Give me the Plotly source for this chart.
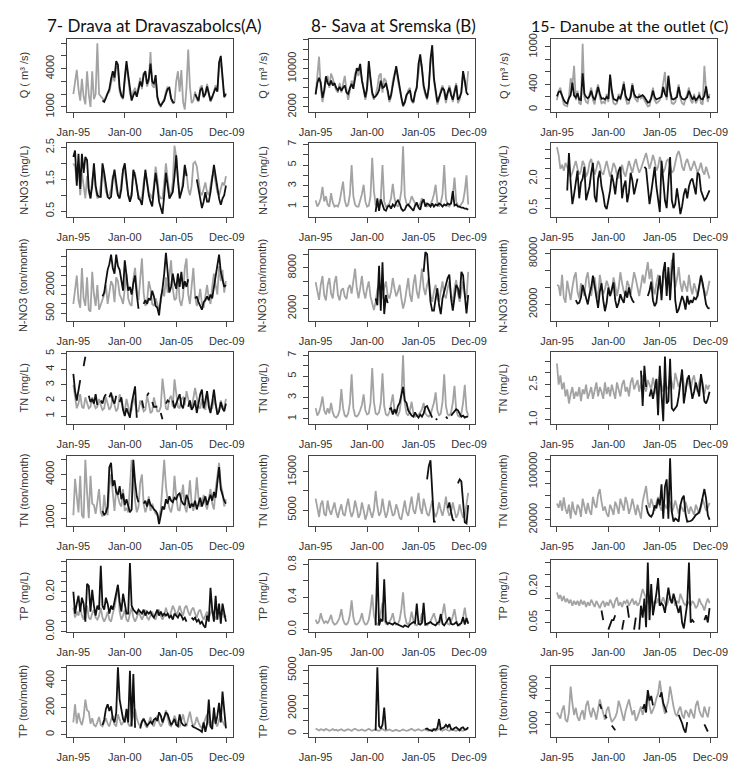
import plotly.graph_objects as go

N = None
STEP = 2  # months between stored values
x_tick_vals = [0, 60, 120, 179]
x_tick_text = ["Jan-95", "Jan-00", "Jan-05", "Dec-09"]
col_titles = ["7- Drava at Dravaszabolcs(A)", "8- Sava at Sremska (B)", "15- Danube at the outlet (C)"]
row_titles = ["Q ( m\u00b3 /s)", "N-NO3 (mg/L)", "N-NO3 (ton/month)", "TN (mg/L)",
              "TN (ton/month)", "TP (mg/L)", "TP (ton/month)"]

# ---------------- Row 1 : discharge ----------------
drava_q_sim = [2000, 2800, 3900, 2400, 1500, 3200, 1800, 1200, 3800, 2000, 1000, 3800, 1600, 2000, 6000, 2000, 1800,
               1600, 1500, 1800, 2100, 2200, 3000, 3500, 3000, 4200, 4000, 2200, 1800, 1600, 3000, 4300, 3300, 2000,
               1600, 2200, 2500, 1900, 2600, 3300, 2400, 3700, 3600, 2600, 3000, 5300, 2700, 2500, 3200, 1700, 1200,
               1000, 1400, 1600, 2200, 2600, 2300, 1600, 1300, 1400,
               3000, 3800, 2200, 3900, 1400, 800, 2500, 5500, 2600, 1300, 1500,
               2200, 1600, 1400, 2500, 2700, 1700, 2100, 2800, 2000, 1400, 1700, 2300, 2700, 2300, 4000, 4600, 2800,
               1700, 2100]
drava_q_obs = [N] * 17 + [1500, 1400, 1700, 2000, 2400, 3200, 3800, 3300, 4600, 4300, 2500, 1900, 1700, 3300, 4600,
                          3500, 2300, 1500, 1900, 2200, 1800, 2400, 3000, 2600, 3500, 3800, 2800, 3200, 4400, 3000, 2800,
                          3500, 1800, 1300, 1100, 1300, 1500, 2000, 2400, 2500, 1700, 1400, 1300] + [N] * 11 + \
              [2000, 1700, 1500, 2300, 2500, 1800, 2000, 2600, 1900, 1500, 1800, 2100, 2500, 2200, 4500, 5000, 3000,
               1800, 2000]
sava_q_sim = [4500, 9000, 12500, 6000, 3000, 5000, 7500, 8500, 6000, 9000, 8000, 6500, 5500, 5000, 7000, 5000, 6500,
              8500, 5500, 3500, 5500, 7500, 6500, 9000, 9500, 8500, 10000, 8000, 5500, 3500, 5500, 10500, 7500, 4500,
              3500, 4500, 6000, 8500, 9000, 5000, 8000, 7500, 5000, 3000, 4000, 7500, 9000, 10000, 7500, 5500, 3500,
              2000, 2800, 4000, 5500, 6000, 3200, 2800, 4500, 6500, 9000, 12000, 10500, 6000, 4500, 3500, 6500, 11000,
              13500, 7500, 5000, 2500, 3500, 5500, 6500, 5000, 2800, 4500, 6500, 5000, 3000, 5500, 7000, 2800, 3500,
              5500, 9000, 7000, 5500, 9500]
sava_q_obs = [4700, 7000, 8100, 7000, 3900, 5500, 8400, 7000, 6500, 7500, 6500, 7000, 6000, 5500, 6200, 5400, 6000,
              6500, 5000, 4700, 6000, 6800, 5800, 8000, 10100, 9500, 11000, 7500, 6000, 4000, 6000, 11600, 8000, 5000,
              4000, 4200, 4700, 5500, 7500, 6000, 6200, 7000, 5500, 3500, 4500, 7000, 8500, 10500, 8000, 6000, 4000,
              2300, 3000, 4500, 5000, 5500, 3500, 3000, 5000, 6000, 11000, 13000, 10000, 6500, 5000, 3800, 6000, 12000,
              14900, 8000, 5500, 3000, 4000, 5000, 6000, 5500, 3500, 5000, 6000, 4500, 3500, 5000, 6500, 3500, 4000,
              5000, 9500, 7500, 5000, 4500]
danube_q_sim = [150, 300, 350, 180, 80, 60, 50, 200, 500, 380, 700, 150, 300, 100, 80, 1050, 200, 120, 100, 250, 350,
                150, 80, 300, 400, 200, 100, 120, 100, 250, 120, 520, 250, 100, 80, 100, 250, 150, 300, 450, 180, 90,
                100, 250, 420, 200, 150, 120, 250, 180, 200, 150, 80, 50, 60, 200, 350, 150, 100, 120, 150, 250, 450,
                600, 150, 500, 250, 100, 90, 120, 250, 400, 180, 100, 80, 150, 250, 350, 150, 100, 250, 100, 150, 280,
                100, 80, 700, 300, 120, 250]
danube_q_obs = [210, 280, 290, 200, 150, 110, 95, 180, 230, 430, 220, 190, 260, 160, 150, 580, 250, 200, 180, 210, 300,
                200, 150, 240, 360, 250, 170, 180, 160, 200, 170, 560, 300, 170, 150, 140, 200, 180, 270, 410, 220, 160,
                150, 200, 390, 250, 200, 190, 200, 220, 230, 200, 150, 110, 120, 180, 300, 200, 160, 170, 180, 200, 360,
                250, 200, 540, 300, 170, 160, 180, 200, 360, 220, 170, 160, 170, 200, 300, 220, 160, 200, 150, 180, 220,
                170, 160, 220, 370, 190, 200]

# ---------------- Row 2 : nitrate concentration ----------------
drava_no3_sim = [2.0, 1.9, 1.4, 1.9, 1.0, 1.7, 1.3, 0.9, 1.6, 1.1, 0.9, 1.5, 1.8, 1.2, 0.9, 1.0, 1.3, 1.8, 1.5, 1.1,
                 1.0, 1.0, 1.2, 1.6, 1.6, 1.2, 1.0, 1.0, 1.4, 1.8, 1.8, 1.3, 1.0, 0.9, 1.1, 1.7, 1.7, 1.2, 1.0, 0.9,
                 0.9, 1.4, 1.7, 1.4, 1.1, 1.0, 0.9, 1.3, 1.9, 1.5, 1.0, 0.9, 0.9, 1.4, 2.0, 1.5, 1.1, 1.0, 1.4, 2.55,
                 2.2, 1.5, 1.0, 1.1, 1.6, 1.9, 1.7, 1.2, 1.0, 1.3, 2.0, 2.05, 1.9, 1.5, 1.1, 1.0, 1.2, 1.4, 1.1, 1.0,
                 1.3, 1.6, 1.7, 1.4, 1.1, 1.0, 1.2, 1.4, 1.3, 1.6]
drava_no3_obs = [2.2, 2.4, 1.3, 2.3, 1.2, 2.3, 1.7, 2.2, 2.1, 1.2, 0.9, 1.3, 2.0, 1.3, 1.0, 0.95, 0.95, 2.0, 1.7, 1.3,
                 0.95, 0.9, 0.95, 1.5, 1.8, 1.4, 1.0, 0.9, 1.2, 1.8, 2.0, 1.5, 1.0, 0.8, 1.0, 1.8, 1.6, 1.3, 0.9, 0.85,
                 0.7, 1.2, 1.8, 1.4, 1.0, 0.8, 0.65, 1.2, 1.7, 1.3, 0.8, 0.6, 0.42, 1.0, 1.7, 1.3, 0.9, 1.0, 1.1, 1.6,
                 2.25, 1.5, 0.9, 1.1, 1.3, 1.95, 1.6] + [N] * 5 + \
                [1.5, 1.2, 0.9, 0.6, 0.8, 1.1, 0.8, 0.8, 1.1, 1.5, 1.95, 1.6, 1.2, 0.9, 0.7, 0.9, 1.0, 1.3]
sava_no3_sim = [1.6, 1.0, 1.3, 1.8, 2.9, 1.5, 2.0, 1.2, 1.0, 2.3, 1.4, 1.0, 1.1, 1.0, 1.5, 2.5, 3.4, 1.6,
                1.0, 1.2, 2.2, 5.0, 2.0, 1.2, 1.0, 1.0, 1.5, 2.2, 3.1, 1.5, 1.0, 1.1, 2.0, 5.7, 2.5, 1.2,
                1.0, 1.2, 1.8, 5.0, 1.5, 1.0, 1.1, 1.3, 1.8, 3.2, 1.8, 1.2, 1.0, 1.5, 2.5, 6.8, 2.0, 1.3,
                1.1, 1.4, 2.0, 1.6, 1.3, 1.1, 1.0, 1.3, 1.8, 1.5, 1.2, 1.0, 1.1, 1.2, 1.6, 2.2, 3.1, 1.4,
                1.0, 1.4, 2.2, 5.0, 1.8, 1.1, 1.0, 1.3, 2.0, 3.8, 1.5, 1.1, 1.0, 1.2, 1.5, 2.5, 4.0, 1.2]
sava_no3_obs = [N] * 35 + [0.5,
                           1.8, 0.6, 1.7, 1.2, 0.7, 0.6, 1.0, 1.1, 0.8, 1.2, 1.0, 1.4, 1.6, 1.3, 0.8, 0.6, 0.7, 1.1,
                           1.2, 1.0, 0.8, 0.6, 1.1, 1.4, 0.9, 0.7, 1.4, 1.7, 1.0, 1.3, 1.2, 1.0, 1.3, 1.0, 1.2, 1.1,
                           1.3, 1.2, 1.0, 1.2, 1.1, 1.3, 1.2, 1.3, 2.5, 1.1, 1.2, 1.0, 1.0, 0.9, 0.9, 0.8, 0.8, 0.7]
danube_no3_sim = [3.6, 3.2, 2.5, 2.7, 2.4, 2.8, 2.6, 2.4, 2.1, 2.3, 2.6, 2.9, 2.5, 2.2, 2.4, 2.9, 2.7, 2.1, 2.3, 2.8,
                  3.0, 2.6, 2.2, 2.5, 2.9, 2.7, 2.3, 2.2, 2.6, 2.9, 2.5, 2.1, 2.4, 2.8, 2.6, 2.2, 2.0, 2.4, 2.7, 2.3,
                  2.1, 2.5, 2.9, 2.6, 2.3, 2.7, 3.0, 2.6, 2.3, 2.5, 2.8, 3.1, 3.3, 2.9, 2.5, 2.8, 3.2, 2.9, 2.4, 2.6,
                  3.1, 2.8, 2.3, 2.5, 2.9, 3.0, 2.7, 2.3, 2.4, 2.8, 3.2, 3.4, 3.1, 2.6, 2.4, 2.8, 3.0, 2.7, 2.4, 2.6,
                  2.9, 2.6, 2.3, 2.5, 2.8, 2.4, 2.2, 2.6, 2.3, 2.0]
danube_no3_obs = [N] * 6 + [1.4, 3.3, 1.8, 0.7, 1.2, 1.7, 2.4, 1.0, 1.8, 2.0, 2.6, 0.9, 1.2, 1.6, 2.3, 2.8, 1.1, 0.8,
                            2.0, 2.4, 1.6, 1.2, 0.6, 0.45, 0.9, 1.4, 2.2, 1.8, 1.2, 2.0, 2.4, 2.6, 1.0, 1.6, 1.9, 0.8,
                            1.3, 2.3, 1.9, 1.2, 1.6, 2.0] + [N] * 3 + \
                 [2.6, 2.5, 1.6, 0.7, 1.3, 2.0, 2.6, 1.6, 0.8, 0.3, 2.9, 1.8, 0.9, 0.5, 1.6, 3.1, 0.9, 0.5, 0.7, 1.5,
                  0.9, 0.2, 0.6, 1.2, 1.5, 1.0, 1.6, 1.9, 2.0, 1.5, 1.2, 2.3, 2.2, 1.4, 1.1, 0.9, 1.0, 1.2, 1.4]

# ---------------- Row 3 : nitrate load ----------------
drava_no3l_sim = [1000, 1800, 2500, 1200, 800, 2900, 1300, 900, 2400, 700, 600, 2700, 1500, 900, 2000, 700, 1000, 1300,
                  1500, 2000, 1000, 1600, 2200, 2000, 1100, 2400, 2200, 1500, 1300, 1000, 2000, 2600, 1300, 1000, 900,
                  2300, 2900, 1800, 1200, 2200, 3400, 1600, 900, 1100, 2200, 1800, 1000, 900, 1300, 1000, 700, 1100,
                  1800, 1400, 2400, 1600, 2300, 3300, 1800, 1200, 1300, 2600, 1200, 900, 1400, 2900, 3400, 1500, 1000,
                  2200, 2900, 1400, 900, 1200, 1800, 1000, 800, 1400, 2000, 1300, 1000, 1900, 2600, 2000, 1500, 3000,
                  2200, 2800, 1600, 2200]
drava_no3l_obs = [N] * 17 + [1400, 1600, 2200, 2800, 3100, 3600, 2900, 2600, 3600, 3000, 2800, 2200, 1700, 3300, 2400,
                             1700, 1900, 1500, 2100, 2500, 1500, 750, N, N, 1000, 1200, 1000, 1300, 1200, 1700, 1400,
                             900, 800, 400, 1300, 1800, 2600, 3700, 2700, 1600, 1900, 2600, 2100, 1800, 2600, 1900,
                             2700, 1800, 2200, 1900, 2300] + [N] * 3 + \
                 [1300, 1400, 1100, 900, 700, 1100, 1200, 1400, 1200, 1500, 1300, 1900, 2400, 3000, 3600, 2700, 2300,
                  1900, 2000]
sava_no3l_sim = [5900, 4500, 3300, 5500, 6800, 4000, 3200, 5500, 6500, 4200, 3500, 5800, 6800, 4000, 3200, 4700, 5000,
                 3800, 3400, 5000, 5500, 4200, 6000, 7900, 5000, 3500, 5000, 6800, 4500, 3500, 5000, 6000, 3800, 2800,
                 1800, 3000, 4800, 5500, 4500, 3500, 5000, 6000, 4000, 3500, 4500, 6500, 5000, 3800, 4500, 5500, 3500,
                 2000, 3000, 5000, 6500, 4000, 3000, 5500, 7000, 4500, 3500, 5500, 7900, 5000, 4000, 5500, 6500, 4000,
                 3000, 4500, 5500, 3500, 3000, 4500, 6000, 4000, 3500, 5000, 6000, 4000, 3000, 5000, 6200, 4200, 3000,
                 4500, 6000, 4000, 3500, 7400]
sava_no3l_obs = [N] * 35 + [3500, 2500, 8300, 1700, 8800, 1200, 4000, 2800] + [N] * 20 + \
                [7400, 10300, 10000, 6000, 3000, 1700, 1700, 3500, 5000, 2500, 1200, 3500, 4500, 5500, 6500, 7000,
                 3500, 1700, 3500, 5500, 5000, 3500, 7400, 6900, 4000, 1300, 4000]
danube_no3l_sim = [43000, 42000, 30000, 55000, 28000, 22000, 48000, 35000, 25000, 40000, 52000, 58000, 35000, 27000,
                   45000, 38000, 30000, 50000, 58000, 40000, 30000, 45000, 52000, 35000, 28000, 55000, 45000, 32000,
                   38000, 48000, 42000, 30000, 35000, 52000, 42000, 30000, 40000, 58000, 45000, 35000, 30000, 48000,
                   42000, 32000, 45000, 58000, 50000, 38000, 30000, 42000, 55000, 45000, 60000, 70000, 50000, 62000,
                   40000, 32000, 45000, 55000, 40000, 35000, 48000, 60000, 42000, 58000, 45000, 73000, 62000, 40000,
                   50000, 64000, 45000, 35000, 48000, 42000, 35000, 55000, 40000, 32000, 45000, 38000, 30000, 40000,
                   55000, 42000, 35000, 30000, 38000, 48000]
danube_no3l_obs = [N] * 11 + [25000, 21000, 22000, 28000, 43000, 35000, 30000, 20000, 32000, 40000, 54000, 40000,
                              30000, 16000, 35000, 45000, 25000, 12000, 22000, 40000, 30000, 38000, 46000, 25000,
                              16000, 22000, 32000, 26000, 22000, 36000, 28000, 40000, 30000, 25000, 22000] + [N] * 7 + \
                  [30000, 36000, 47000, 25000, 18000, 22000, 40000, 54000, 25000, 58000, 70000, 30000, 64000, 25000,
                   58000, 81000, 25000, 10000, 14000, 24000, 30000, 24000, 14000, 30000, 20000, 25000, 22000, 28000,
                   26000, 30000, 40000, 54000, 45000, 30000, 20000, 16000, 15000]

# ---------------- Row 4 : TN concentration ----------------
drava_tn_sim = [3.0, 2.3, 1.5, 1.8, 2.4, 1.6, 1.5, 2.2, 1.9, 1.5, 1.6, 2.2, 1.8, 1.5, 1.6, 2.1, 1.7, 1.4, 1.5, 2.2,
                1.8, 1.4, 1.6, 2.3, 1.7, 1.3, 1.5, 2.4, 1.9, 1.4, 1.3, 2.1, 1.6, 1.2, 1.4, 2.2, 1.8, 1.3, 1.3, 2.0,
                1.7, 1.3, 1.4, 2.3, 1.8, 1.2, 1.3, 2.2, 1.7, 1.3, 1.3, 1.6, 3.4, 2.2, 1.5, 1.4, 2.1, 2.3, 1.6, 3.35,
                2.4, 1.6, 1.5, 2.1, 2.2, 1.7, 2.6, 2.0, 1.6, 1.5, 2.2, 2.8, 2.2, 1.6, 1.5, 2.1, 1.7, 1.4, 2.5, 2.0,
                1.4, 1.5, 2.1, 1.7, 1.3, 1.4, 2.0, 1.6, 1.5, 2.1]
drava_tn_obs = [3.7, 2.6, 2.0, 2.8, 3.3, N, 4.2, 4.8, N, 2.3, 1.9, 2.1, 1.8, 2.4, 1.7, N, 2.0, 1.8, 2.2, 2.4, N, 2.2,
                2.5, 2.0, 1.8, 2.3, N, 1.9, 2.2, 1.4, 1.0, 1.5, 1.2, 0.9, 1.8, 2.5, 2.9, 0.9, N, N, 2.0, 1.5, N, 2.3,
                2.5, N, 1.9, 1.6, 1.6, 1.6, N, 1.2, 0.8, N, 1.8, 2.0, 1.9, N, 2.0, 1.5, 1.8, 2.1, 2.4, 1.7, 1.5, 2.2,
                N, 1.6, 2.0, 1.4, 1.6, 2.0, 1.2, 1.8, 2.4, 2.7, 1.5, 2.0, 2.6, 1.6, 1.2, 1.9, 2.7, 1.8, 1.1, 1.3, 1.9,
                1.5, 1.3, 1.8]
sava_tn_sim = [2.0, 1.3, 1.6, 2.2, 3.1, 1.8, 1.4, 2.0, 1.5, 2.5, 1.6, 1.2, 1.1, 1.3, 1.8, 3.8, 2.0, 1.3, 1.2, 1.5,
               2.5, 5.2, 2.0, 1.3, 1.2, 1.4, 1.8, 2.3, 3.3, 1.8, 1.4, 1.5, 2.5, 5.8, 2.6, 1.5, 1.4, 1.6, 2.5, 5.3,
               2.2, 1.4, 1.3, 1.6, 2.4, 3.3, 1.8, 1.4, 1.3, 1.7, 3.0, 7.0, 2.5, 1.5, 1.3, 1.8, 2.6, 1.5, 1.2, 1.3,
               1.4, 1.6, 1.9, 2.5, 1.5, 1.3, 1.2, 1.4, 2.0, 2.5, 3.5, 1.8, 1.3, 1.5, 2.6, 5.2, 2.2, 1.4, 1.3, 1.6,
               2.5, 4.1, 1.8, 1.3, 1.2, 1.5, 2.5, 4.2, 1.8, 1.3]
sava_tn_obs = [N] * 43 + [1.9, 2.0, 1.4, 1.9, 1.5, 2.2, 2.5, 3.2, 4.0, 2.7, 2.5, 1.8, 1.5, 1.3, 1.2, 1.6, 1.3, 1.1,
                          1.4, 1.2, 1.5, 2.1, 2.2, 1.8, 1.5, 1.1, N, 1.0, 0.9, N, N, N, N, 1.2, 1.0, N, 1.3, 1.5, 1.7,
                          1.9, 1.8, 1.5, 1.2, 1.3, 1.1, 1.2, 1.2]
danube_tn_sim = [3.4, 2.5, 2.9, 2.3, 2.6, 2.0, 2.3, 1.7, 2.1, 2.4, 1.9, 2.2, 2.0, 2.4, 1.8, 2.3, 2.1, 2.5, 1.9, 2.2,
                 2.4, 1.9, 2.3, 2.6, 2.0, 2.4, 2.2, 1.9, 2.6, 2.1, 2.4, 2.0, 2.5, 2.2, 1.9, 2.6, 2.3, 2.0, 2.5, 2.7,
                 2.2, 2.4, 2.0, 2.6, 2.8, 2.3, 2.5, 2.7, 2.2, 2.6, 2.9, 2.4, 2.2, 2.7, 2.5, 2.3, 2.8, 2.4, 2.1, 2.6,
                 2.9, 2.5, 2.2, 2.7, 2.4, 2.3, 2.9, 2.6, 2.3, 3.0, 2.7, 2.4, 2.6, 3.0, 2.5, 2.2, 2.8, 2.5, 2.3, 2.7,
                 2.9, 2.4, 2.2, 2.6, 2.8, 2.3, 2.1, 2.5, 2.3, 2.5]
danube_tn_obs = [N] * 49 + [3.1, 1.6, 3.3, 2.4, N, 2.0, 2.3, 1.9, 2.4, 2.75, 1.2, 3.3, 2.1, 0.95, 3.7, 1.7, 1.8, 3.6,
                            1.5, 1.4, 1.5, 1.6, 2.0, 2.6, 3.15, 1.7, 2.3, 2.7, 2.9, 2.3, 1.9, 2.2, 2.6, 2.3, 2.0, 2.95,
                            2.5, 1.8, 1.7, 1.9, 2.2]

# ---------------- Row 5 : TN load ----------------
drava_tnl_sim = [1200, 3700, 2500, 1400, 3900, 1200, 1000, 5000, 2800, 1000, 3900, 2000, 1900, 1300, 2100, 3000, 1400,
                 1100, 2600, 1500, 1200, 3200, 4000, 2600, 1500, 3000, 2400, 2000, 1800, 3000, 1500, 1700, 1400, 3500,
                 5000, 3800, 2200, 1400, 1800, 3400, 4000, 2000, 1400, 1800, 2500, 1500, 2000, 1600, 1300, 1200, 1000,
                 1600, 3000, 5000, 3200, 2200, 1700, 1400, 2000, 3900, 2500, 1600, 1500, 2600, 3300, 1800, 1400, 2300,
                 3600, 2000, 1500, 2200, 3800, 2400, 1800, 2000, 2600, 2000, 1600, 2300, 3000, 2000, 1600, 3000, 4000,
                 4800, 3300, 2800, 1800, 2300]
drava_tnl_obs = [N] * 17 + [1500, 1200, 1400, 1800, 4500, 4800, 3200, 3600, 2800, 2600, 3200, 2300, 2700, 1900, 2300,
                            1900, 1400, 1600, 5000, 3500, 2500, 2100, N, N, 2000, 2200, 1800, 2300, 1900, 1800, 1600,
                            1500, 1300, 600, 1200, 1800, 1600, 2300, 2000, 2500, 2200, 2100, 2400, 2300, 2600, 2700,
                            2200, 2000, 1900, 2600, 2300, 1700, 2000, 1800, 2200, 1600, 2000, 2400, 1800, 2200, 2500,
                            1900, 2300, 2600, 2200, 2800, 2400, 3650, 4500, 3000, 2600, 2200, 2000]
sava_tnl_sim = [8000, 5500, 3200, 6500, 7500, 4000, 3500, 7500, 5000, 3800, 5500, 7000, 4500, 3000, 5000, 6500, 4000,
                3500, 6000, 8000, 5000, 3200, 4500, 7500, 5500, 3000, 4000, 7000, 5000, 2500, 4000, 6500, 4500, 3000,
                5000, 10000, 6000, 3500, 4500, 8000, 5000, 3000, 4500, 7500, 5500, 3500, 4000, 6500, 5000, 3000, 2500,
                5500, 7500, 4500, 3500, 6000, 8500, 5000, 4000, 6500, 9500, 5500, 4000, 8000, 6000, 4000, 3500, 5500,
                7500, 4500, 3200, 4500, 7000, 5000, 3500, 5500, 8500, 5000, 3500, 4500, 7000, 5000, 3000, 4000, 6500,
                4500, 3000, 3500, 6000, 9500]
sava_tnl_obs = [N] * 65 + [13000, 16500, 18000, 9000, 2000, 2000] + [N] * 6 + [5500, 7000, 4500, 2500, 2200] + [N] + \
               [12000, 13000, 12500, 6000, 1800, 1500, 6300]
danube_tnl_sim = [47000, 40000, 52000, 35000, 57000, 38000, 30000, 45000, 22000, 50000, 35000, 28000, 45000, 40000,
                  25000, 55000, 42000, 30000, 48000, 35000, 28000, 58000, 45000, 40000, 62000, 71000, 50000, 35000,
                  42000, 30000, 25000, 45000, 38000, 28000, 50000, 42000, 30000, 55000, 45000, 35000, 58000, 48000,
                  30000, 40000, 55000, 38000, 28000, 45000, 35000, 22000, 50000, 62000, 76000, 50000, 40000, 55000,
                  45000, 35000, 48000, 58000, 42000, 35000, 50000, 45000, 38000, 55000, 48000, 32000, 40000, 52000,
                  38000, 30000, 45000, 40000, 33000, 50000, 38000, 30000, 42000, 36000, 28000, 45000, 38000, 30000,
                  40000, 55000, 45000, 35000, 40000, 48000]
danube_tnl_obs = [N] * 52 + [44000, 32000, 27000, 25000, 30000, 44000, 39000, 55000, 44000, 79000, 22000, 75000, 87000,
                             22000, 122000, 33000, 17000, 22000, 20000, 17000, 44000, 55000, 60000, 30000, 17000, 17000,
                             18000, 20000, 25000, 28000, 30000, 33000, 44000, 58000, 71000, 55000, 28000, 20000]

# ---------------- Row 6 : TP concentration ----------------
drava_tp_sim = [0.12, 0.07, 0.10, 0.08, 0.12, 0.08, 0.06, 0.10, 0.13, 0.07, 0.06, 0.09, 0.11, 0.07, 0.06, 0.08, 0.12,
                0.07, 0.05, 0.07, 0.10, 0.06, 0.05, 0.09, 0.12, 0.17, 0.23, 0.10, 0.06, 0.08, 0.11, 0.06, 0.05, 0.09,
                0.12, 0.07, 0.05, 0.07, 0.10, 0.08, 0.06, 0.08, 0.11, 0.07, 0.06, 0.08, 0.10, 0.07, 0.06, 0.09, 0.11,
                0.08, 0.06, 0.08, 0.12, 0.09, 0.07, 0.10, 0.13, 0.11, 0.08, 0.10, 0.13, 0.10, 0.08, 0.12, 0.13, 0.10,
                0.08, 0.11, 0.12, 0.09, 0.07, 0.10, 0.11, 0.08, 0.06, 0.08, 0.10, 0.07, 0.09, 0.11, 0.08, 0.06, 0.09,
                0.11, 0.08, 0.10, 0.07, 0.08]
drava_tp_obs = [0.20, 0.09, 0.14, 0.18, 0.10, 0.17, 0.14, 0.05, 0.24, 0.23, 0.10, 0.21, 0.13, 0.08, 0.13, 0.11, 0.33,
                0.13, 0.11, 0.17, 0.14, 0.09, 0.13, 0.11, 0.15, 0.19, 0.235, 0.15, 0.10, 0.19, 0.13, 0.09, 0.09, 0.345,
                0.13, 0.11, 0.10, 0.09, 0.11, 0.10, 0.09, 0.11, 0.08, 0.10, 0.09, 0.10, 0.08, 0.07, 0.09, 0.11, 0.08,
                0.10, 0.08, 0.09, 0.08, 0.09, 0.07, 0.08, 0.06, 0.09, 0.08, 0.07, 0.09, 0.08, 0.06, 0.07, 0.05, N, N,
                0.07, 0.06, 0.07, 0.05, 0.06, 0.04, 0.05, 0.03, 0.02, 0.08, 0.05, 0.22, 0.11, 0.05, 0.18, 0.06, 0.14,
                0.04, 0.14, 0.10, 0.05]
sava_tp_sim = [0.12, 0.07, 0.10, 0.20, 0.12, 0.08, 0.10, 0.08, 0.12, 0.18, 0.09, 0.06, 0.07, 0.10, 0.15, 0.25, 0.12,
               0.07, 0.06, 0.09, 0.18, 0.36, 0.15, 0.07, 0.06, 0.08, 0.12, 0.20, 0.10, 0.06, 0.07, 0.12, 0.25, 0.43,
               0.18, 0.08, 0.06, 0.10, 0.20, 0.33, 0.12, 0.07, 0.06, 0.09, 0.13, 0.20, 0.10, 0.06, 0.07, 0.12, 0.25,
               0.46, 0.18, 0.08, 0.06, 0.10, 0.22, 0.12, 0.06, 0.05, 0.07, 0.10, 0.20, 0.12, 0.06, 0.05, 0.07, 0.10,
               0.15, 0.20, 0.12, 0.07, 0.06, 0.12, 0.20, 0.32, 0.15, 0.07, 0.06, 0.10, 0.16, 0.25, 0.12, 0.06, 0.05,
               0.08, 0.15, 0.27, 0.12, 0.08]
sava_tp_obs = [N] * 35 + [0.05, 0.83, 0.05, 0.12, 0.10, 0.62, 0.10, 0.07, 0.08, 0.07, 0.06, 0.08, 0.07, 0.06, 0.05,
                          0.04, 0.03, 0.05, 0.04, 0.03, 0.06, 0.07, 0.09, 0.08, 0.32, 0.07, 0.06, 0.08, 0.33, 0.06,
                          0.07, 0.08, 0.09, 0.07, 0.06, 0.05, 0.08, 0.09, 0.19, 0.07, 0.05, 0.08, 0.11, 0.15, 0.07,
                          0.06, 0.07, 0.09, 0.05, 0.06, 0.08, 0.15, 0.06, 0.14, 0.07]
danube_tp_sim = [0.175, 0.15, 0.165, 0.14, 0.16, 0.135, 0.15, 0.13, 0.145, 0.12, 0.14, 0.125, 0.14, 0.12, 0.145, 0.125,
                 0.14, 0.115, 0.135, 0.12, 0.145, 0.13, 0.115, 0.14, 0.125, 0.11, 0.13, 0.14, 0.115, 0.135, 0.12,
                 0.145, 0.13, 0.11, 0.14, 0.155, 0.12, 0.135, 0.115, 0.14, 0.13, 0.145, 0.12, 0.135, 0.15, 0.125,
                 0.14, 0.12, 0.13, 0.16, 0.19, 0.17, 0.15, 0.13, 0.14, 0.16, 0.12, 0.14, 0.13, 0.15, 0.12, 0.14,
                 0.155, 0.13, 0.12, 0.14, 0.16, 0.13, 0.15, 0.12, 0.14, 0.13, 0.17, 0.15, 0.13, 0.12, 0.14, 0.13,
                 0.12, 0.14, 0.13, 0.11, 0.12, 0.15, 0.13, 0.12, 0.10, 0.13, 0.15, 0.13]
danube_tp_obs = [N] * 26 + [0.10, 0.06, N, N, 0.02, 0.04, 0.06, 0.06, 0.08, N, N, N, 0.02, 0.06, N, 0.12, 0.07, N, N,
                            0.02, 0.07, N, 0.02, 0.12, 0.07, 0.15, 0.03, 0.30, 0.06, 0.21, 0.08, 0.12, 0.17, 0.235,
                            0.12, 0.13, 0.12, 0.09, 0.15, 0.195, 0.15, 0.13, 0.17, 0.14, 0.11, 0.09, 0.12, 0.05, 0.025,
                            0.07, 0.13, 0.30, 0.05, 0.06, 0.05, N, N, N, N, N, 0.06, 0.08, 0.05, 0.11]

# ---------------- Row 7 : TP load ----------------
drava_tpl_sim = [90, 225, 80, 160, 100, 70, 130, 260, 180, 170, 80, 120, 70, 60, 90, 130, 70, 60, 90, 120, 80, 60, 110,
                 140, 75, 60, 150, 100, 70, 90, 120, 150, 80, 60, 100, 140, 190, 120, 80, 60, 100, 120, 70, 50, 90, 130,
                 80, 60, 110, 140, 90, 60, 80, 120, 180, 120, 70, 60, 90, 140, 110, 70, 60, 100, 150, 90, 60, 120, 170,
                 100, 60, 80, 130, 90, 60, 50, 80, 120, 150, 90, 60, 100, 130, 80, 60, 110, 150, 100, 70, 60]
drava_tpl_obs = [N] * 17 + [70, 110, 190, 225, 175, 210, 115, 90, 160, 500, 260, 200, 115, 90, 190, 90, 475, 60, 450,
                            50, N, N, 45, 95, 115, 90, 65, 80, 95, 80, 110, 120, 100, 165, 140, 90, 130, 165, 150, 115,
                            70, 90, 115, 70, 60, 150, 90, 70, 65, 80, N, N, 70, 55, 50, 45, 40, 30, 20, 90, 20, 80,
                            260, 60, 40, 200, 80, 140, 235, 90, 320, 180, 45]
sava_tpl_sim = [400, 300, 250, 350, 300, 250, 380, 300, 220, 280, 350, 260, 300, 230, 280, 340, 260, 220, 300, 350, 280,
                230, 320, 380, 300, 240, 270, 330, 260, 220, 300, 380, 280, 230, 300, 340, 260, 220, 300, 360, 270, 220,
                280, 320, 250, 200, 250, 300, 240, 200, 260, 330, 260, 210, 250, 300, 380, 280, 230, 300, 350, 260, 220,
                300, 340, 260, 220, 280, 350, 270, 220, 300, 360, 270, 230, 300, 350, 260, 220, 290, 340, 260, 220, 280,
                330, 260, 220, 300, 350, 400]
sava_tpl_obs = [N] * 35 + [250, 5250, 600, 400, 700, 2050, 300] + [N] * 22 + \
               [350, 400, 300, 250, 200, 350, 300, 450, 1150, 350, 400, 500, 700, 500, 750, 350, 300, 450, 500, 400,
                250, 450, 500, 300, 350, 500]
danube_tpl_sim = [2000, 1800, 1500, 2200, 2600, 1400, 1200, 2000, 4200, 2800, 1800, 2400, 1600, 1300, 1900, 2200, 1400,
                  2600, 3000, 2100, 1600, 2400, 2000, 1400, 2300, 3100, 2500, 1800, 1400, 2200, 2500, 1700, 1200, 1400,
                  1600, 2000, 3000, 2500, 1800, 1300, 2100, 2600, 3100, 2400, 1800, 2200, 1300, 1600, 2100, 2500, 1800,
                  2400, 2900, 3500, 2600, 1900, 2200, 2600, 3200, 3600, 4700, 3400, 2500, 1900, 2400, 3000, 4200, 3200,
                  2500, 1900, 1700, 2200, 2500, 1800, 1500, 2200, 2000, 1600, 2300, 1900, 1500, 2600, 3000, 2200, 1800,
                  1600, 2500, 2000, 1600, 2500]
danube_tpl_obs = [N] * 25 + [2700, 2300, N, 1800, 1500, N, N, 900, 700, 500] + [N] * 15 + \
                 [2300, 2700, 2000, 3900, 3000, 3400, 2600, N, N, N, 3300, 3700, 2800, 2400, 2000] + [N] * 6 + \
                 [1800, 1500, 1100, 600, 300, 1200] + [N] * 9 + [1000, 700, 400, N]


def rng(a, b, s):
    out, v = [], a
    while v <= b + 1e-9:
        out.append(round(v, 6))
        v += s
    return out


panels = [
    # row 1
    (drava_q_sim, drava_q_obs, [596, 6308], rng(1000, 6000, 1000), {1000: "1000", 4000: "4000"}),
    (sava_q_sim, sava_q_obs, [924, 16152], rng(2000, 16000, 2000), {2000: "2000", 10000: "10000"}),
    (danube_q_sim, danube_q_obs, [-42, 1124], rng(0, 1000, 200), {0: "0", 400: "400", 1000: "1000"}),
    # row 2
    (drava_no3_sim, drava_no3_obs, [0.32, 2.63], rng(0.5, 2.5, 0.5), {0.5: "0.5", 1.5: "1.5", 2.5: "2.5"}),
    (sava_no3_sim, sava_no3_obs, [0.0, 7.1], rng(1, 7, 1), {1: "1", 3: "3", 5: "5", 7: "7"}),
    (danube_no3_sim, danube_no3_obs, [0.05, 3.8], rng(0.5, 3.5, 0.5), {0.5: "0.5", 2.0: "2.0"}),
    # row 3
    (drava_no3l_sim, drava_no3l_obs, [106, 3843], rng(500, 3500, 500), {500: "500", 2000: "2000"}),
    (sava_no3l_sim, sava_no3l_obs, [186, 10614], rng(2000, 10000, 2000), {2000: "2000", 8000: "8000"}),
    (danube_no3l_sim, danube_no3l_obs, [500, 84243], rng(20000, 80000, 20000), {20000: "20000", 80000: "80000"}),
    # row 4
    (drava_tn_sim, drava_tn_obs, [0.5, 5.1], rng(1, 5, 1), {1: "1", 2: "2", 3: "3", 4: "4", 5: "5"}),
    (sava_tn_sim, sava_tn_obs, [0.51, 7.3], rng(1, 7, 1), {1: "1", 3: "3", 5: "5", 7: "7"}),
    (danube_tn_sim, danube_tn_obs, [0.83, 3.89], rng(1.0, 3.5, 0.5), {1.0: "1.0", 2.5: "2.5"}),
    # row 5
    (drava_tnl_sim, drava_tnl_obs, [467, 5267], rng(1000, 5000, 1000), {1000: "1000", 4000: "4000"}),
    (sava_tnl_sim, sava_tnl_obs, [863, 19137], rng(5000, 15000, 5000), {5000: "5000", 15000: "15000"}),
    (danube_tnl_sim, danube_tnl_obs, [9855, 125765], rng(20000, 120000, 20000), {20000: "20000", 100000: "100000"}),
    # row 6
    (drava_tp_sim, drava_tp_obs, [-0.0015, 0.36], rng(0, 0.35, 0.05), {0: "0.00", 0.2: "0.20"}),
    (sava_tp_sim, sava_tp_obs, [-0.03, 0.86], rng(0, 0.8, 0.2), {0: "0.0", 0.4: "0.4", 0.8: "0.8"}),
    (danube_tp_sim, danube_tp_obs, [0.011, 0.311], rng(0.05, 0.3, 0.05), {0.05: "0.05", 0.2: "0.20"}),
    # row 7
    (drava_tpl_sim, drava_tpl_obs, [-17, 511], rng(0, 500, 100), {0: "0", 200: "200", 400: "400"}),
    (sava_tpl_sim, sava_tpl_obs, [-250, 5360], rng(0, 5000, 1000), {0: "0", 2000: "2000", 5000: "5000"}),
    (danube_tpl_sim, danube_tpl_obs, [-41, 5943], rng(1000, 6000, 1000), {1000: "1000", 4000: "4000"}),
]

W, H = 745, 771
col_px = [(58, 229), (308, 479), (557, 728)]
row_px = [(27, 102), (134, 210), (244, 317), (349, 423), (456, 528), (563, 637), (672, 745)]
ytitle_x = [13, 260, 508]
title_left = [35, 308, 534]
title_size = [17, 17, 16]

TICK_FONT = dict(family="Liberation Sans, Arial, sans-serif", size=11, color="#333333")
GRAY = "#a3a3a3"
AX = "#444444"

fig = go.Figure()
layout = dict(width=W, height=H, margin=dict(l=0, r=0, t=0, b=0), paper_bgcolor="white",
              plot_bgcolor="white", showlegend=False, hovermode=False)
annotations = []

for k, (sim, obs, yr, yt, ylab) in enumerate(panels):
    r, c = divmod(k, 3)
    n = k + 1
    xs = "x" if n == 1 else f"x{n}"
    ys = "y" if n == 1 else f"y{n}"
    xm = [i * STEP for i in range(len(sim))]
    xo = [i * STEP for i in range(len(obs))]
    fig.add_trace(go.Scatter(x=xm, y=sim, mode="lines", line=dict(color=GRAY, width=1.8),
                             xaxis=xs, yaxis=ys, hoverinfo="skip"))
    fig.add_trace(go.Scatter(x=xo, y=obs, mode="lines", line=dict(color="#111111", width=1.8),
                             xaxis=xs, yaxis=ys, hoverinfo="skip", connectgaps=False))
    x0, x1 = col_px[c]
    y0, y1 = row_px[r]
    axis_common = dict(showline=True, mirror=True, linecolor=AX, linewidth=1, showgrid=False,
                       zeroline=False, ticks="outside", ticklen=5, tickwidth=1, tickcolor=AX,
                       tickfont=TICK_FONT)
    layout["xaxis" if n == 1 else f"xaxis{n}"] = dict(
        domain=[x0 / W, x1 / W], range=[-7.16, 186.16], anchor=ys,
        tickmode="array", tickvals=x_tick_vals, ticktext=x_tick_text, ticklabelstandoff=5, **axis_common)
    lab_vals = [v for v in yt if v in ylab]
    layout["yaxis" if n == 1 else f"yaxis{n}"] = dict(
        domain=[1 - y1 / H, 1 - y0 / H], range=yr, anchor=xs, tickangle=-90,
        tickmode="array", tickvals=lab_vals, ticktext=[ylab[v] for v in lab_vals], ticklabelstandoff=3,
        minor=dict(tickmode="array", tickvals=yt, ticks="outside", ticklen=5, tickwidth=1, tickcolor=AX,
                   showgrid=False),
        **axis_common)
    annotations.append(dict(text=row_titles[r], x=ytitle_x[c] / W, y=1 - (y0 + y1) / 2 / H,
                            xref="paper", yref="paper", showarrow=False, textangle=-90,
                            font=dict(family="Liberation Sans, Arial, sans-serif", size=11, color="#333333"),
                            xanchor="center", yanchor="middle"))

for c in range(3):
    annotations.append(dict(text=col_titles[c], x=title_left[c] / W, y=1 - 13 / H, xref="paper", yref="paper",
                            showarrow=False, xanchor="left", yanchor="middle",
                            font=dict(family="Lato, Open Sans, sans-serif", size=title_size[c], color="#111111")))

layout["annotations"] = annotations
fig.update_layout(**layout)
fig.write_html("out.html", config={"displayModeBar": False, "staticPlot": True},
               post_script="document.body.style.margin='0';")
